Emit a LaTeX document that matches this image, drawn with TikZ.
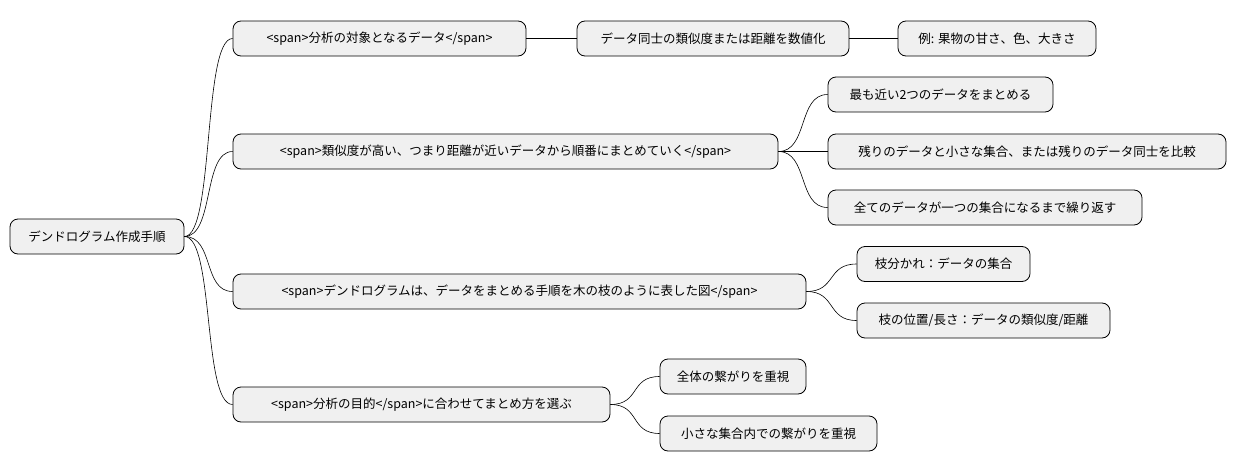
\documentclass[tikz,border=0pt]{standalone}
\usepackage{fontspec}
\setmainfont{Noto Sans CJK JP}
\begin{document}
\begin{tikzpicture}[x=1pt,y=-1pt,
 box/.style={draw=black,line width=0.8pt,fill=black!6,rounded corners=8pt,minimum height=35pt,inner sep=0pt,font=\fontsize{12.5}{15}\selectfont},
 link/.style={draw=black,line width=0.6pt}]
\useasboundingbox (0,0) rectangle (1237,471);
\node[box,minimum width=174] (r) at (97,236.5) {デンドログラム作成手順};
\node[box,minimum width=293] (a) at (379.5,38.5) {<span>分析の対象となるデータ</span>};
\node[box,minimum width=272] (a1) at (713,38.5) {データ同士の類似度または距離を数値化};
\node[box,minimum width=198] (a2) at (997,38.5) {例: 果物の甘さ、色、大きさ};
\node[box,minimum width=545] (b) at (505.5,151.5) {<span>類似度が高い、つまり距離が近いデータから順番にまとめていく</span>};
\node[box,minimum width=225] (b1) at (940.5,94.5) {最も近い2つのデータをまとめる};
\node[box,minimum width=398] (b2) at (1027,151.5) {残りのデータと小さな集合、または残りのデータ同士を比較};
\node[box,minimum width=314] (b3) at (985,207.5) {全てのデータが一つの集合になるまで繰り返す};
\node[box,minimum width=573] (c) at (519.5,291.5) {<span>デンドログラムは、データをまとめる手順を木の枝のように表した図</span>};
\node[box,minimum width=173] (c1) at (943.5,264) {枝分かれ：データの集合};
\node[box,minimum width=253] (c2) at (983.5,320.5) {枝の位置/長さ：データの類似度/距離};
\node[box,minimum width=377] (d) at (421.5,404.5) {<span>分析の目的</span>に合わせてまとめ方を選ぶ};
\node[box,minimum width=146] (d1) at (733,376.5) {全体の繋がりを重視};
\node[box,minimum width=217] (d2) at (768.5,433.5) {小さな集合内での繋がりを重視};
\foreach \p/\c in {r/a,r/b,r/c,r/d,a/a1,a1/a2,b/b1,b/b2,b/b3,c/c1,c/c2,d/d1,d/d2}
  \draw[link] (\p.east) .. controls ([xshift=30]\p.east) and ([xshift=-30]\c.west) .. (\c.west);
\end{tikzpicture}
\end{document}
